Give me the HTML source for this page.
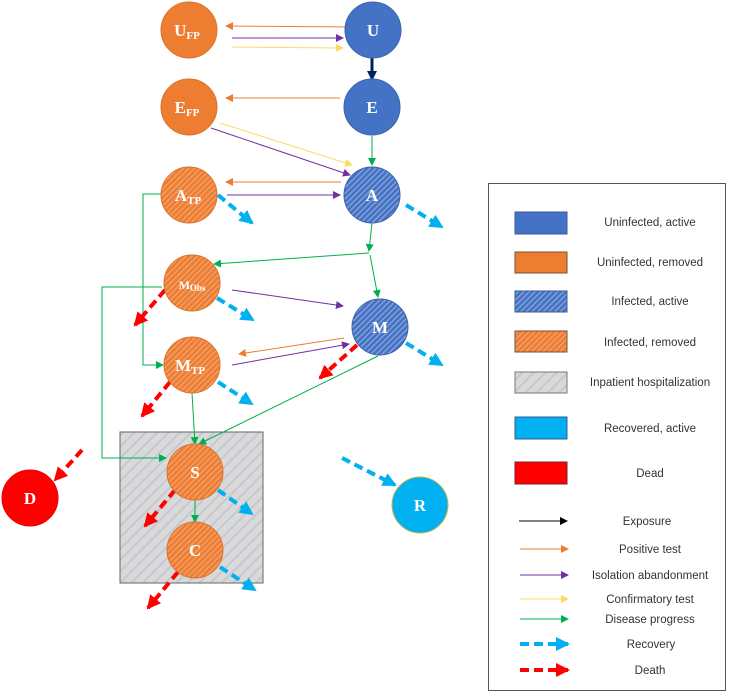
<!DOCTYPE html>
<html><head><meta charset="utf-8"><style>
html,body{margin:0;padding:0;background:#fff;}
svg{display:block;}
text{font-family:"Liberation Serif",serif;font-weight:bold;fill:#fff;}
.lg{font-family:"Liberation Sans",sans-serif;font-weight:normal;fill:#333;font-size:11.5px;}
</style></head><body>
<svg width="731" height="695" viewBox="0 0 731 695" xmlns="http://www.w3.org/2000/svg">
<defs>
<pattern id="ho" width="4" height="4" patternUnits="userSpaceOnUse" patternTransform="rotate(45)"><rect width="4" height="4" fill="#ed7d31"/><rect width="1.2" height="4" fill="#f4a574"/></pattern>
<pattern id="hb" width="4" height="4" patternUnits="userSpaceOnUse" patternTransform="rotate(45)"><rect width="4" height="4" fill="#4472c4"/><rect width="1.2" height="4" fill="#8fa9dc"/></pattern>
<pattern id="hg" width="8" height="8" patternUnits="userSpaceOnUse" patternTransform="rotate(45)"><rect width="8" height="8" fill="#d9d9d9"/><rect width="2" height="8" fill="#c4c8d0"/></pattern>
<marker id="mo" markerWidth="8" markerHeight="8" refX="7" refY="4" orient="auto" markerUnits="userSpaceOnUse"><path d="M0,0L8,4L0,8z" fill="#ed7d31"/></marker>
<marker id="mp" markerWidth="8" markerHeight="8" refX="7" refY="4" orient="auto" markerUnits="userSpaceOnUse"><path d="M0,0L8,4L0,8z" fill="#7030a0"/></marker>
<marker id="my" markerWidth="8" markerHeight="8" refX="7" refY="4" orient="auto" markerUnits="userSpaceOnUse"><path d="M0,0L8,4L0,8z" fill="#ffd966"/></marker>
<marker id="mg" markerWidth="8" markerHeight="8" refX="7" refY="4" orient="auto" markerUnits="userSpaceOnUse"><path d="M0,0L8,4L0,8z" fill="#00b050"/></marker>
<marker id="mk" markerWidth="8" markerHeight="8" refX="7" refY="4" orient="auto" markerUnits="userSpaceOnUse"><path d="M0,0L8,4L0,8z" fill="#000"/></marker>
<marker id="mn" markerWidth="10" markerHeight="10" refX="8" refY="5" orient="auto" markerUnits="userSpaceOnUse"><path d="M0,0L10,5L0,10z" fill="#002060"/></marker>
<marker id="mc" markerWidth="14" markerHeight="14" refX="12" refY="7" orient="auto" markerUnits="userSpaceOnUse"><path d="M0,0L14,7L0,14z" fill="#00b0f0"/></marker>
<marker id="mr" markerWidth="14" markerHeight="14" refX="12" refY="7" orient="auto" markerUnits="userSpaceOnUse"><path d="M0,0L14,7L0,14z" fill="#ff0000"/></marker>
</defs>
<rect x="120" y="432" width="143" height="151" fill="url(#hg)" stroke="#666" stroke-width="1"/>
<g fill="none" stroke-width="1">
<line x1="357" y1="27" x2="226" y2="26" stroke="#ed7d31" marker-end="url(#mo)"/>
<line x1="232" y1="38" x2="343" y2="38" stroke="#7030a0" marker-end="url(#mp)"/>
<line x1="232" y1="47" x2="343" y2="48" stroke="#ffd966" marker-end="url(#my)"/>
<line x1="340" y1="98" x2="226" y2="98" stroke="#ed7d31" marker-end="url(#mo)"/>
<line x1="220" y1="123" x2="352" y2="165" stroke="#ffd966" marker-end="url(#my)"/>
<line x1="211" y1="128" x2="350" y2="175" stroke="#7030a0" marker-end="url(#mp)"/>
<line x1="372" y1="136" x2="372" y2="165" stroke="#00b050" marker-end="url(#mg)"/>
<line x1="341" y1="182" x2="226" y2="182" stroke="#ed7d31" marker-end="url(#mo)"/>
<line x1="227" y1="195" x2="340" y2="195" stroke="#7030a0" marker-end="url(#mp)"/>
<line x1="372" y1="223" x2="369" y2="251" stroke="#00b050" marker-end="url(#mg)"/>
<line x1="369" y1="253" x2="214" y2="264" stroke="#00b050" marker-end="url(#mg)"/>
<line x1="370" y1="255" x2="378" y2="297" stroke="#00b050" marker-end="url(#mg)"/>
<polyline points="161,194 143,194 143,365 163,365" stroke="#00b050" marker-end="url(#mg)"/>
<polyline points="162,287 102,287 102,458 166,458" stroke="#00b050" marker-end="url(#mg)"/>
<line x1="232" y1="290" x2="343" y2="306" stroke="#7030a0" marker-end="url(#mp)"/>
<line x1="344" y1="338" x2="239" y2="354" stroke="#ed7d31" marker-end="url(#mo)"/>
<line x1="232" y1="365" x2="349" y2="344" stroke="#7030a0" marker-end="url(#mp)"/>
<line x1="192" y1="393" x2="195" y2="444" stroke="#00b050" marker-end="url(#mg)"/>
<line x1="378" y1="356" x2="199" y2="444" stroke="#00b050" marker-end="url(#mg)"/>
<line x1="195" y1="500" x2="195" y2="522" stroke="#00b050" marker-end="url(#mg)"/>
<line x1="372" y1="58" x2="372" y2="79" stroke="#002060" stroke-width="3" marker-end="url(#mn)"/>
</g>
<g fill="none" stroke-width="4" stroke-dasharray="9,5">
<line x1="218" y1="195" x2="252" y2="223" stroke="#00b0f0" marker-end="url(#mc)"/>
<line x1="406" y1="205" x2="442" y2="227" stroke="#00b0f0" marker-end="url(#mc)"/>
<line x1="217" y1="298" x2="253" y2="320" stroke="#00b0f0" marker-end="url(#mc)"/>
<line x1="406" y1="343" x2="442" y2="365" stroke="#00b0f0" marker-end="url(#mc)"/>
<line x1="218" y1="382" x2="252" y2="404" stroke="#00b0f0" marker-end="url(#mc)"/>
<line x1="218" y1="490" x2="252" y2="514" stroke="#00b0f0" marker-end="url(#mc)"/>
<line x1="220" y1="567" x2="255" y2="590" stroke="#00b0f0" marker-end="url(#mc)"/>
<line x1="342" y1="458" x2="395" y2="485" stroke="#00b0f0" marker-end="url(#mc)"/>
<line x1="165" y1="290" x2="135" y2="325" stroke="#ff0000" marker-end="url(#mr)"/>
<line x1="357" y1="345" x2="320" y2="378" stroke="#ff0000" marker-end="url(#mr)"/>
<line x1="170" y1="382" x2="142" y2="416" stroke="#ff0000" marker-end="url(#mr)"/>
<line x1="175" y1="490" x2="145" y2="526" stroke="#ff0000" marker-end="url(#mr)"/>
<line x1="178" y1="572" x2="148" y2="608" stroke="#ff0000" marker-end="url(#mr)"/>
<line x1="82" y1="450" x2="55" y2="480" stroke="#ff0000" marker-end="url(#mr)"/>
</g>
<g stroke-width="1">
<circle cx="189" cy="30" r="28" fill="#ed7d31" stroke="#d9742e"/>
<circle cx="373" cy="30" r="28" fill="#4472c4" stroke="#3a64ad"/>
<circle cx="189" cy="107" r="28" fill="#ed7d31" stroke="#d9742e"/>
<circle cx="372" cy="107" r="28" fill="#4472c4" stroke="#3a64ad"/>
<circle cx="189" cy="195" r="28" fill="url(#ho)" stroke="#d9742e"/>
<circle cx="372" cy="195" r="28" fill="url(#hb)" stroke="#3a64ad"/>
<circle cx="192" cy="283" r="28" fill="url(#ho)" stroke="#d9742e"/>
<circle cx="380" cy="327" r="28" fill="url(#hb)" stroke="#3a64ad"/>
<circle cx="192" cy="365" r="28" fill="url(#ho)" stroke="#d9742e"/>
<circle cx="195" cy="472" r="28" fill="url(#ho)" stroke="#d9742e"/>
<circle cx="195" cy="550" r="28" fill="url(#ho)" stroke="#d9742e"/>
<circle cx="30" cy="498" r="28" fill="#ff0000" stroke="#e00"/>
<circle cx="420" cy="505" r="28" fill="#00b0f0" stroke="#c9b84a"/>
</g>
<g font-size="17" text-anchor="middle">
<text x="187" y="36">U<tspan font-size="11" dy="3">FP</tspan></text>
<text x="373" y="36">U</text>
<text x="187" y="113">E<tspan font-size="11" dy="3">FP</tspan></text>
<text x="372" y="113">E</text>
<text x="188" y="201">A<tspan font-size="11" dy="3">TP</tspan></text>
<text x="372" y="201">A</text>
<text x="192" y="289" font-size="12">M<tspan font-size="9" dy="2">Obs</tspan></text>
<text x="380" y="333">M</text>
<text x="190" y="371">M<tspan font-size="11" dy="3">TP</tspan></text>
<text x="195" y="478">S</text>
<text x="195" y="556">C</text>
<text x="30" y="504">D</text>
<text x="420" y="511">R</text>
</g>
<rect x="488.5" y="183.5" width="237" height="507" fill="none" stroke="#555"/>
<rect x="515" y="212" width="52" height="22" fill="#4472c4" stroke="#3a5a9a"/>
<rect x="515" y="252" width="52" height="21" fill="#ed7d31" stroke="#7a5030"/>
<rect x="515" y="291" width="52" height="21" fill="url(#hb)" stroke="#3a5a9a"/>
<rect x="515" y="331" width="52" height="21" fill="url(#ho)" stroke="#7a5030"/>
<rect x="515" y="372" width="52" height="21" fill="url(#hg)" stroke="#777"/>
<rect x="515" y="417" width="52" height="22" fill="#00b0f0" stroke="#3a5a9a"/>
<rect x="515" y="462" width="52" height="22" fill="#ff0000" stroke="#7a2030"/>
<g class="lg" text-anchor="middle">
<text class="lg" x="650" y="226">Uninfected, active</text>
<text class="lg" x="650" y="266">Uninfected, removed</text>
<text class="lg" x="650" y="305">Infected, active</text>
<text class="lg" x="650" y="346">Infected, removed</text>
<text class="lg" x="650" y="386">Inpatient hospitalization</text>
<text class="lg" x="650" y="432">Recovered, active</text>
<text class="lg" x="650" y="477">Dead</text>
<text class="lg" x="647" y="525">Exposure</text>
<text class="lg" x="650" y="553">Positive test</text>
<text class="lg" x="650" y="579">Isolation abandonment</text>
<text class="lg" x="650" y="603">Confirmatory test</text>
<text class="lg" x="650" y="623">Disease progress</text>
<text class="lg" x="651" y="648">Recovery</text>
<text class="lg" x="650" y="674">Death</text>
</g>
<g stroke-width="1">
<line x1="519" y1="521" x2="567" y2="521" stroke="#000" marker-end="url(#mk)"/>
<line x1="520" y1="549" x2="568" y2="549" stroke="#ed7d31" marker-end="url(#mo)"/>
<line x1="520" y1="575" x2="568" y2="575" stroke="#7030a0" marker-end="url(#mp)"/>
<line x1="520" y1="599" x2="568" y2="599" stroke="#ffd966" marker-end="url(#my)"/>
<line x1="520" y1="619" x2="568" y2="619" stroke="#00b050" marker-end="url(#mg)"/>
</g>
<g stroke-width="4" stroke-dasharray="9,5">
<line x1="520" y1="644" x2="568" y2="644" stroke="#00b0f0" marker-end="url(#mc)"/>
<line x1="520" y1="670" x2="568" y2="670" stroke="#ff0000" marker-end="url(#mr)"/>
</g>
</svg>
</body></html>
